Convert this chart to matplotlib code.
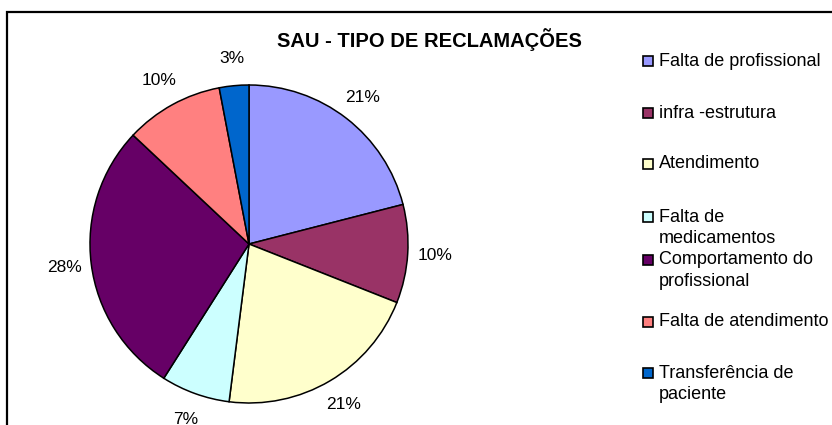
import matplotlib
matplotlib.use('Agg')
import matplotlib.pyplot as plt
from matplotlib.patches import Rectangle

plt.rcParams['font.family'] = ['Liberation Sans', 'DejaVu Sans']

# Data
categories = ['Falta de profissional', 'infra -estrutura', 'Atendimento',
              'Falta de\nmedicamentos', 'Comportamento do\nprofissional',
              'Falta de atendimento', 'Transferência de\npaciente']
shares = [21, 10, 21, 7, 28, 10, 3]
colors = ['#9999FF', '#993366', '#FFFFCC', '#CCFFFF', '#660066', '#FF8080', '#0066CC']
title = 'SAU - TIPO DE RECLAMAÇÕES'

W, H = 832, 425


def fx(px):
    return px / W


def fy(py):
    # py measured from top of image
    return 1 - py / H


fig = plt.figure(figsize=(W / 100, H / 100), dpi=100)
fig.patch.set_facecolor('white')

# pie axes centred at (249, 244) px, radius 159 px
cx, cy, r = 249, 244, 159
half = 200
ax = fig.add_axes([fx(cx - half), fy(cy + half), 2 * half / W, 2 * half / H])
lim = half / r
wedges, texts, autotexts = ax.pie(
    shares, colors=colors, startangle=90, counterclock=False,
    autopct='%1.0f%%', pctdistance=1.17, radius=1,
    wedgeprops=dict(edgecolor='black', linewidth=1.1),
    textprops=dict(fontsize=12.5, color='black'))
ax.set_xlim(-lim, lim)
ax.set_ylim(-lim, lim)
ax.axis('off')

# chart frame (cut off at right / bottom)
fig.patches.append(Rectangle((fx(7), -0.1), 1.2, fy(12) + 0.1,
                             transform=fig.transFigure, fill=False,
                             edgecolor='black', linewidth=1.6))

fig.text(fx(429), fy(40), title, ha='center', va='center',
         fontsize=14.5, fontweight='bold')

# legend, drawn by hand to follow the Excel layout
legend_y = [61, 113, 164, 217, 260, 322, 373]
line_h = 21.5
sq = 10
for lab, col, y in zip(categories, colors, legend_y):
    fig.patches.append(Rectangle((fx(643), fy(y + sq / 2)), sq / W, sq / H,
                                 transform=fig.transFigure, facecolor=col,
                                 edgecolor='black', linewidth=1.2))
    for i, line in enumerate(lab.split('\n')):
        fig.text(fx(659), fy(y + i * line_h), line, ha='left', va='center',
                 fontsize=13)

fig.savefig('out.png', dpi=100)
